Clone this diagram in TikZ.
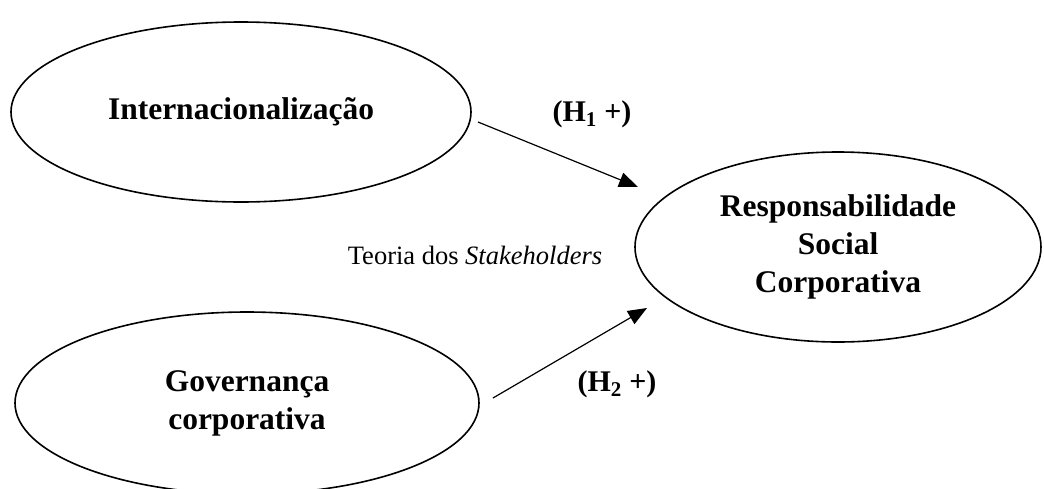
\documentclass[tikz,border=0pt]{standalone}
\usepackage{fontspec}
\setmainfont{Liberation Serif}
\usetikzlibrary{shapes.geometric,arrows.meta,positioning}

\begin{document}
\begin{tikzpicture}[
    x=1pt, y=-1pt,
    construct/.style={draw, ellipse, line width=1.6pt, inner sep=0pt, align=center, font=\fontsize{31.5}{38}\selectfont\bfseries},
    arrow/.style={-{Triangle[length=19pt,width=15pt]}, line width=1.2pt},
    hyp/.style={font=\fontsize{30}{34}\selectfont\bfseries}
]
\useasboundingbox (0,0) rectangle (1044,488);

% Constructs
\node[construct, minimum width=460pt, minimum height=180pt] (intl) at (241,112) {Internacionalização};
\node[construct, minimum width=464pt, minimum height=182pt] (gov) at (247,403) {Governança\\corporativa};
\node[construct, minimum width=406pt, minimum height=190pt] (rsc) at (838,247) {Responsabilidade\\Social\\Corporativa};

% Theory label
\node[font=\fontsize{26.5}{30}\selectfont] (teoria) at (475,255) {Teoria dos \textit{Stakeholders}};

% Hypotheses
\coordinate (h1start) at (478,122);
\coordinate (h1end) at (638,187);
\coordinate (h2start) at (493,398);
\coordinate (h2end) at (647,308);

\draw[arrow] (h1start) -- (h1end);
\draw[arrow] (h2start) -- (h2end);

\node[hyp] (h1) at (592,114) {(H\textsubscript{1} +)};
\node[hyp] (h2) at (617,384) {(H\textsubscript{2} +)};

\end{tikzpicture}
\end{document}
